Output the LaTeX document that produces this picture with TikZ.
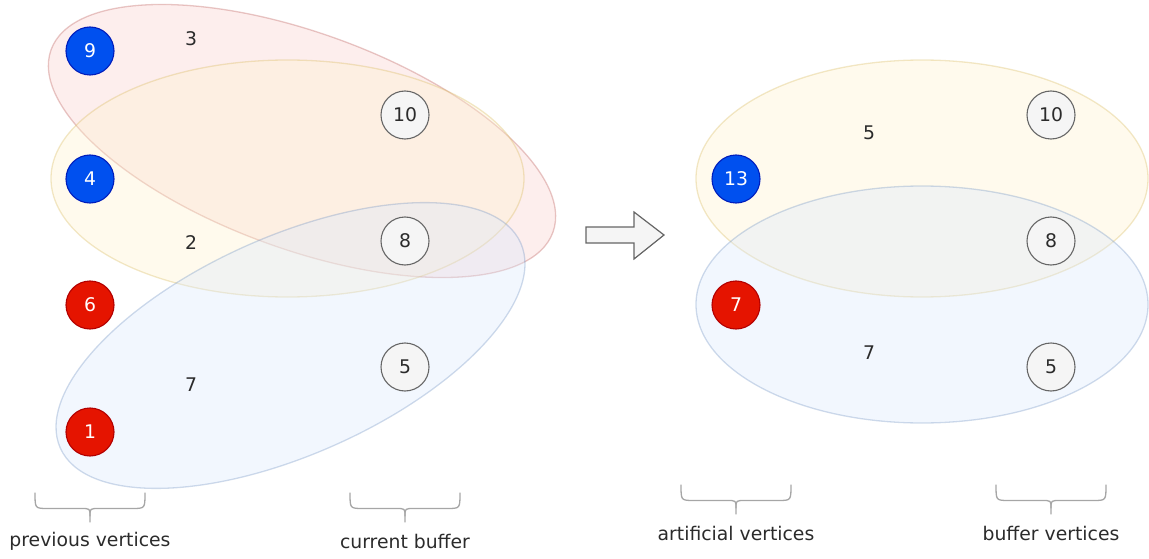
\documentclass[tikz,border=0pt]{standalone}
\usepackage{fontspec}
\setmainfont{DejaVu Sans}
\definecolor{vblue}{HTML}{0050EF}
\definecolor{vbluedark}{HTML}{001DBC}
\definecolor{vred}{HTML}{E51400}
\definecolor{vreddark}{HTML}{B20000}
\definecolor{bufill}{HTML}{F5F5F5}
\definecolor{bustroke}{HTML}{666666}
\definecolor{txt}{HTML}{2B2B2B}
\definecolor{pinkfill}{HTML}{F8CECC}
\definecolor{pinkline}{HTML}{B85450}
\definecolor{yelfill}{HTML}{FFF2CC}
\definecolor{yelline}{HTML}{D6B656}
\definecolor{bluefill}{HTML}{DAE8FC}
\definecolor{blueline}{HTML}{6C8EBF}
\definecolor{bracecol}{HTML}{A6A6A6}
\newcommand\lblfont{\fontsize{18.8}{22}\selectfont}
\begin{document}
\begin{tikzpicture}[x=1pt,y=1pt,
  vertex/.style={circle, minimum size=48pt, inner sep=0pt, line width=1.1pt, font=\lblfont},
  prevv/.style={vertex, fill=vblue, draw=vbluedark, text=white},
  redv/.style={vertex, fill=vred, draw=vreddark, text=white},
  bufv/.style={vertex, fill=bufill, draw=bustroke, text=txt},
  weight/.style={font=\lblfont, text=txt, inner sep=1pt},
  caption/.style={font=\lblfont, text=txt, inner sep=1pt},
  pinkset/.style={fill=pinkfill, fill opacity=0.35, draw=pinkline, draw opacity=0.32, line width=1.3pt},
  yelset/.style={fill=yelfill, fill opacity=0.35, draw=yelline, draw opacity=0.32, line width=1.3pt},
  blueset/.style={fill=bluefill, fill opacity=0.35, draw=blueline, draw opacity=0.32, line width=1.3pt},
  bracestyle/.style={draw=bracecol, line width=1.3pt, line cap=round},
  vbrace/.pic={
    \draw[bracestyle] (-55,0) .. controls (-55,-15.5) .. (-42,-15.5) -- (-9,-15.5)
        .. controls (0,-15.5) .. (0,-23) -- (0,-29);
    \draw[bracestyle] (55,0) .. controls (55,-15.5) .. (42,-15.5) -- (9,-15.5)
        .. controls (0,-15.5) .. (0,-23);
  }]
\useasboundingbox (0,0) rectangle (1149,-559);

% hyperedges before the merge
\path[pinkset, rotate around={-20:(302,-141)}] (302,-141) ellipse [x radius=267, y radius=108];
\path[yelset] (287.5,-178.5) ellipse [x radius=236.5, y radius=118.5];
\path[blueset, rotate around={24:(290.5,-345.5)}] (290.5,-345.5) ellipse [x radius=252, y radius=109];

% hyperedges after the merge
\path[yelset] (922,-178.5) ellipse [x radius=226, y radius=118.5];
\path[blueset] (922,-304.5) ellipse [x radius=226, y radius=118.5];

% previous vertices
\node[prevv] (p9) at (90,-51) {9};
\node[prevv] (p4) at (90,-179) {4};
\node[redv]  (p6) at (90,-305) {6};
\node[redv]  (p1) at (90,-432) {1};

% current buffer
\node[bufv] (b10) at (405,-115) {10};
\node[bufv] (b8)  at (405,-241) {8};
\node[bufv] (b5)  at (405,-367) {5};

% artificial vertices
\node[prevv] (a13) at (736,-179) {13};
\node[redv]  (a7)  at (736,-305) {7};

% buffer vertices
\node[bufv] (c10) at (1051,-115) {10};
\node[bufv] (c8)  at (1051,-241) {8};
\node[bufv] (c5)  at (1051,-367) {5};

% edge weights
\node[weight] (w3) at (191,-39) {3};
\node[weight] (w2) at (191,-243) {2};
\node[weight] (w7) at (191,-385) {7};
\node[weight] (r5) at (869,-133) {5};
\node[weight] (r7) at (869,-353) {7};

% transition arrow
\draw[fill=bufill, draw=bustroke, line width=1.2pt, line join=miter]
  (586,-227) -- (634,-227) -- (634,-212) -- (664,-235) -- (634,-259)
  -- (634,-243) -- (586,-243) -- cycle;

% group braces
\pic at (90,-493) {vbrace};
\pic at (405,-493) {vbrace};
\pic at (736,-485) {vbrace};
\pic at (1051,-485) {vbrace};

% captions
\node[caption] (capprev) at (90,-541) {previous vertices};
\node[caption] (capcur)  at (405,-541) {current buffer};
\node[caption] (capart)  at (736,-533) {artificial vertices};
\node[caption] (capbuf)  at (1051,-533) {buffer vertices};
\end{tikzpicture}
\end{document}
